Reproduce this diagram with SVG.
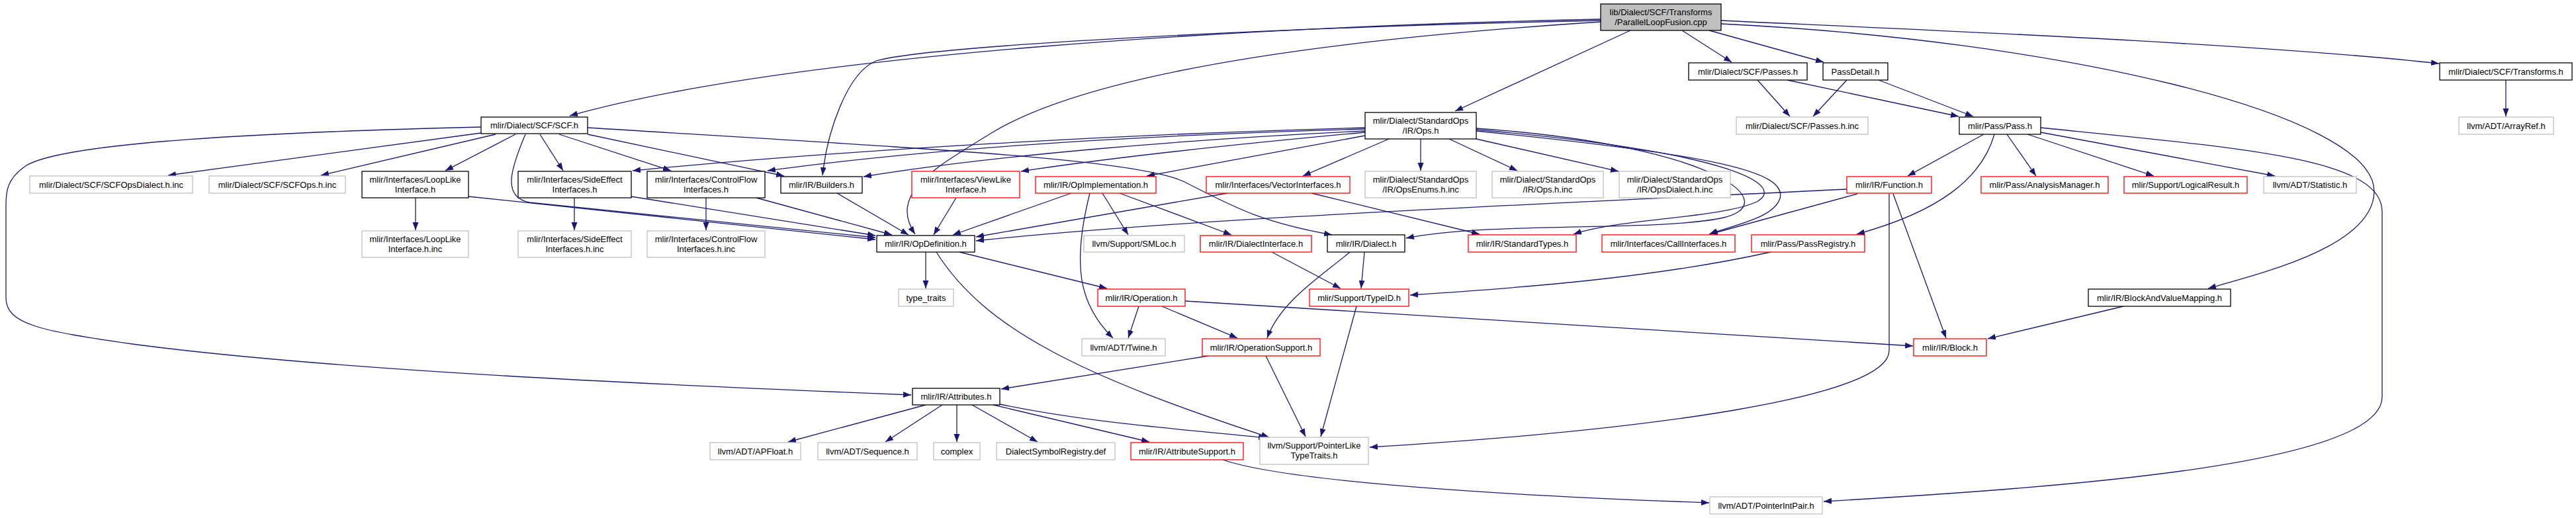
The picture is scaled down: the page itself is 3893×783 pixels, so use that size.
<svg xmlns="http://www.w3.org/2000/svg" width="3893" height="783" viewBox="0 0 3893 783">
<style>
rect{fill:#fff;stroke-width:1.3}
.b rect{stroke:#000}
.g rect{stroke:#bfbfbf}
.r rect{stroke:#ff0000}
.root rect{fill:#bfbfbf;stroke:#000}
text{font-family:"Liberation Sans",Arial,sans-serif;font-size:13px;text-anchor:middle;fill:#000}
#edges path{fill:none;stroke:#191970;stroke-width:1.3;marker-end:url(#a)}
</style>
<defs>
<marker id="a" markerUnits="userSpaceOnUse" markerWidth="14" markerHeight="10" refX="12" refY="4.5" orient="auto"><path d="M0,0 L12,4.5 L0,9 z" fill="#191970"/></marker>
</defs>
<rect x="0" y="0" width="3893" height="783" style="fill:#fff;stroke:none"/>
<g id="edges">
<path d="M2419,29 C1900,40 1200,80 861,175"/>
<path d="M2419,31 C1900,42 1400,70 1324,92 C1280,110 1250,200 1243,265"/>
<path d="M2420,33 C2000,60 1650,110 1500,200 C1420,250 1340,290 1383,354"/>
<path d="M2464,46 L2199,168"/>
<path d="M2542,46 L2617,94"/>
<path d="M2583,46 L2756,94"/>
<path d="M2601,31 C2900,45 3400,65 3686,96"/>
<path d="M2601,36 C3100,60 3590,170 3588,290 C3586,370 3430,410 3337,436"/>
<path d="M727,201 L254,265"/>
<path d="M749,203 L485,265"/>
<path d="M779,203 L673,258"/>
<path d="M816,203 L851,258"/>
<path d="M845,203 L1014,258"/>
<path d="M888,203 L1185,266"/>
<path d="M888,193 C1400,225 1720,240 1790,275 C1860,310 1900,335 2013,355"/>
<path d="M794,203 C772,255 758,298 800,306 L1323,359"/>
<path d="M727,192 C400,200 100,215 40,250 C10,270 9,290 9,310 L9,450 C9,490 60,500 200,520 C500,560 1000,582 1377,597"/>
<path d="M628,299 L628,348"/>
<path d="M708,297 L1323,362"/>
<path d="M868,299 L868,348"/>
<path d="M954,297 L1323,356"/>
<path d="M1067,299 L1067,348"/>
<path d="M1143,299 L1348,355"/>
<path d="M1265,292 L1373,355"/>
<path d="M1445,299 L1411,355"/>
<path d="M1619,292 L1440,355"/>
<path d="M1855,292 L1475,358"/>
<path d="M2791,286 C2300,310 1800,330 1475,364"/>
<path d="M2063,193 C1700,203 1300,225 956,258"/>
<path d="M2063,195 C1700,205 1400,225 1160,258"/>
<path d="M2063,198 C1800,210 1500,235 1305,267"/>
<path d="M2063,200 C1900,215 1700,235 1543,259"/>
<path d="M2063,205 L1733,266"/>
<path d="M2099,210 L1969,266"/>
<path d="M2147,210 L2147,258"/>
<path d="M2190,210 L2293,258"/>
<path d="M2231,210 L2446,259"/>
<path d="M2231,194 C2600,220 2700,310 2600,330 C2500,350 2250,335 2125,360"/>
<path d="M2231,196 C2620,230 2700,280 2655,305 C2600,330 2450,330 2378,354"/>
<path d="M2231,198 C2600,235 2700,260 2690,300 C2680,330 2620,340 2583,354"/>
<path d="M1982,292 L2236,354"/>
<path d="M2807,293 L2584,354"/>
<path d="M2861,293 L2941,511"/>
<path d="M2855,293 L2855,530 C2855,600 2500,650 2070,676"/>
<path d="M2998,203 L2883,266"/>
<path d="M3014,203 C2995,270 2930,320 2806,354"/>
<path d="M3033,203 L3077,266"/>
<path d="M3064,203 L3255,266"/>
<path d="M3084,200 L3438,266"/>
<path d="M3084,193 C3400,225 3600,240 3600,320 L3600,600 C3600,700 3150,735 2756,758"/>
<path d="M2656,121 L2705,176"/>
<path d="M2701,121 L2960,176"/>
<path d="M2791,121 L2740,176"/>
<path d="M2839,121 L2982,176"/>
<path d="M3787,121 L3787,176"/>
<path d="M3209,463 L3004,512"/>
<path d="M2676,381 C2500,420 2300,435 2131,446"/>
<path d="M2062,381 L2057,436"/>
<path d="M2040,381 C2000,415 1935,455 1915,511"/>
<path d="M1922,381 L2026,436"/>
<path d="M2050,463 L1996,660"/>
<path d="M1791,455 L2891,523"/>
<path d="M1721,463 L1705,511"/>
<path d="M1756,463 L1870,511"/>
<path d="M1826,538 L1513,588"/>
<path d="M1913,538 L1973,660"/>
<path d="M1399,381 L1399,436"/>
<path d="M1450,381 L1673,436"/>
<path d="M1415,381 C1490,500 1640,570 1918,661"/>
<path d="M1647,292 C1620,400 1630,460 1682,511"/>
<path d="M1666,292 L1705,355"/>
<path d="M1692,292 L1861,355"/>
<path d="M1399,612 L1191,668"/>
<path d="M1424,612 L1338,668"/>
<path d="M1446,612 L1446,668"/>
<path d="M1469,612 L1568,668"/>
<path d="M1501,612 L1737,668"/>
<path d="M1511,611 C1650,640 1800,650 1914,662"/>
<path d="M1848,695 C1950,730 2300,750 2583,760"/>
</g>
<g id="root" class="root"><rect x="2419" y="6" width="182" height="40"/><text x="2510" y="22.5">lib/Dialect/SCF/Transforms</text><text x="2510" y="37.5">/ParallelLoopFusion.cpp</text></g>
<g id="scf" class="b"><rect x="727" y="177" width="161" height="25"/><text x="807.5" y="194">mlir/Dialect/SCF/SCF.h</text></g>
<g id="scfopsdialect" class="g"><rect x="45" y="266" width="246" height="26"/><text x="168" y="283.5">mlir/Dialect/SCF/SCFOpsDialect.h.inc</text></g>
<g id="scfops" class="g"><rect x="316" y="266" width="206" height="26"/><text x="419" y="283.5">mlir/Dialect/SCF/SCFOps.h.inc</text></g>
<g id="looplike" class="b"><rect x="547" y="259" width="161" height="40"/><text x="627.5" y="275.5">mlir/Interfaces/LoopLike</text><text x="627.5" y="290.5">Interface.h</text></g>
<g id="looplikeinc" class="g"><rect x="547" y="349" width="161" height="40"/><text x="627.5" y="365.5">mlir/Interfaces/LoopLike</text><text x="627.5" y="380.5">Interface.h.inc</text></g>
<g id="sideeffect" class="b"><rect x="783" y="259" width="171" height="40"/><text x="868.5" y="275.5">mlir/Interfaces/SideEffect</text><text x="868.5" y="290.5">Interfaces.h</text></g>
<g id="sideeffectinc" class="g"><rect x="783" y="349" width="171" height="40"/><text x="868.5" y="365.5">mlir/Interfaces/SideEffect</text><text x="868.5" y="380.5">Interfaces.h.inc</text></g>
<g id="controlflow" class="b"><rect x="978" y="259" width="178" height="40"/><text x="1067" y="275.5">mlir/Interfaces/ControlFlow</text><text x="1067" y="290.5">Interfaces.h</text></g>
<g id="controlflowinc" class="g"><rect x="978" y="349" width="178" height="40"/><text x="1067" y="365.5">mlir/Interfaces/ControlFlow</text><text x="1067" y="380.5">Interfaces.h.inc</text></g>
<g id="builders" class="b"><rect x="1180" y="267" width="123" height="25"/><text x="1241.5" y="284">mlir/IR/Builders.h</text></g>
<g id="viewlike" class="r"><rect x="1378" y="259" width="163" height="40"/><text x="1459.5" y="275.5">mlir/Interfaces/ViewLike</text><text x="1459.5" y="290.5">Interface.h</text></g>
<g id="opimpl" class="r"><rect x="1565" y="267" width="182" height="25"/><text x="1656" y="284">mlir/IR/OpImplementation.h</text></g>
<g id="vector" class="r"><rect x="1823" y="267" width="217" height="25"/><text x="1931.5" y="284">mlir/Interfaces/VectorInterfaces.h</text></g>
<g id="opsh" class="b"><rect x="2063" y="170" width="168" height="40"/><text x="2147" y="186.5">mlir/Dialect/StandardOps</text><text x="2147" y="201.5">/IR/Ops.h</text></g>
<g id="opsenums" class="g"><rect x="2063" y="259" width="168" height="40"/><text x="2147" y="275.5">mlir/Dialect/StandardOps</text><text x="2147" y="290.5">/IR/OpsEnums.h.inc</text></g>
<g id="opsinc" class="g"><rect x="2255" y="259" width="168" height="40"/><text x="2339" y="275.5">mlir/Dialect/StandardOps</text><text x="2339" y="290.5">/IR/Ops.h.inc</text></g>
<g id="opsdialectinc" class="g"><rect x="2447" y="259" width="168" height="40"/><text x="2531" y="275.5">mlir/Dialect/StandardOps</text><text x="2531" y="290.5">/IR/OpsDialect.h.inc</text></g>
<g id="passes" class="b"><rect x="2552" y="95" width="179" height="26"/><text x="2641.5" y="112.5">mlir/Dialect/SCF/Passes.h</text></g>
<g id="passdetail" class="b"><rect x="2755" y="95" width="98" height="26"/><text x="2804" y="112.5">PassDetail.h</text></g>
<g id="passesinc" class="g"><rect x="2624" y="177" width="199" height="26"/><text x="2723.5" y="194.5">mlir/Dialect/SCF/Passes.h.inc</text></g>
<g id="pass" class="b"><rect x="2961" y="177" width="123" height="26"/><text x="3022.5" y="194.5">mlir/Pass/Pass.h</text></g>
<g id="transforms" class="b"><rect x="3687" y="95" width="200" height="26"/><text x="3787" y="112.5">mlir/Dialect/SCF/Transforms.h</text></g>
<g id="arrayref" class="g"><rect x="3716" y="177" width="143" height="26"/><text x="3787.5" y="194.5">llvm/ADT/ArrayRef.h</text></g>
<g id="function" class="r"><rect x="2791" y="267" width="128" height="25"/><text x="2855" y="284">mlir/IR/Function.h</text></g>
<g id="analysis" class="r"><rect x="2994" y="267" width="192" height="25"/><text x="3090" y="284">mlir/Pass/AnalysisManager.h</text></g>
<g id="logical" class="r"><rect x="3210" y="267" width="186" height="25"/><text x="3303" y="284">mlir/Support/LogicalResult.h</text></g>
<g id="statistic" class="g"><rect x="3421" y="267" width="140" height="25"/><text x="3491" y="284">llvm/ADT/Statistic.h</text></g>
<g id="opdef" class="b"><rect x="1325" y="356" width="148" height="25"/><text x="1399" y="373">mlir/IR/OpDefinition.h</text></g>
<g id="smloc" class="g"><rect x="1638" y="356" width="152" height="25"/><text x="1714" y="373">llvm/Support/SMLoc.h</text></g>
<g id="dialectiface" class="r"><rect x="1814" y="356" width="168" height="25"/><text x="1898" y="373">mlir/IR/DialectInterface.h</text></g>
<g id="dialect" class="b"><rect x="2006" y="355" width="117" height="26"/><text x="2064.5" y="372.5">mlir/IR/Dialect.h</text></g>
<g id="stdtypes" class="r"><rect x="2219" y="355" width="163" height="26"/><text x="2300.5" y="372.5">mlir/IR/StandardTypes.h</text></g>
<g id="callifaces" class="r"><rect x="2421" y="355" width="201" height="26"/><text x="2521.5" y="372.5">mlir/Interfaces/CallInterfaces.h</text></g>
<g id="passreg" class="r"><rect x="2647" y="355" width="171" height="26"/><text x="2732.5" y="372.5">mlir/Pass/PassRegistry.h</text></g>
<g id="typetraits" class="g"><rect x="1358" y="437" width="83" height="26"/><text x="1399.5" y="454.5">type_traits</text></g>
<g id="operation" class="r"><rect x="1659" y="437" width="132" height="26"/><text x="1725" y="454.5">mlir/IR/Operation.h</text></g>
<g id="typeid" class="r"><rect x="1979" y="437" width="150" height="26"/><text x="2054" y="454.5">mlir/Support/TypeID.h</text></g>
<g id="bavm" class="b"><rect x="3156" y="437" width="215" height="26"/><text x="3263.5" y="454.5">mlir/IR/BlockAndValueMapping.h</text></g>
<g id="twine" class="g"><rect x="1635" y="512" width="126" height="26"/><text x="1698" y="529.5">llvm/ADT/Twine.h</text></g>
<g id="opsupport" class="r"><rect x="1817" y="512" width="178" height="26"/><text x="1906" y="529.5">mlir/IR/OperationSupport.h</text></g>
<g id="block" class="r"><rect x="2892" y="512" width="110" height="26"/><text x="2947" y="529.5">mlir/IR/Block.h</text></g>
<g id="attributes" class="b"><rect x="1379" y="587" width="132" height="25"/><text x="1445" y="604">mlir/IR/Attributes.h</text></g>
<g id="apfloat" class="g"><rect x="1073" y="669" width="137" height="26"/><text x="1141.5" y="686.5">llvm/ADT/APFloat.h</text></g>
<g id="sequence" class="g"><rect x="1236" y="669" width="150" height="26"/><text x="1311" y="686.5">llvm/ADT/Sequence.h</text></g>
<g id="complex" class="g"><rect x="1411" y="669" width="70" height="26"/><text x="1446" y="686.5">complex</text></g>
<g id="dsr" class="g"><rect x="1506" y="669" width="179" height="26"/><text x="1595.5" y="686.5">DialectSymbolRegistry.def</text></g>
<g id="attrsupport" class="r"><rect x="1709" y="669" width="170" height="26"/><text x="1794" y="686.5">mlir/IR/AttributeSupport.h</text></g>
<g id="pointerlike" class="g"><rect x="1904" y="661" width="164" height="41"/><text x="1986" y="677.5">llvm/Support/PointerLike</text><text x="1986" y="692.5">TypeTraits.h</text></g>
<g id="pointerintpair" class="g"><rect x="2584" y="751" width="170" height="26"/><text x="2669" y="768.5">llvm/ADT/PointerIntPair.h</text></g>
</svg>
